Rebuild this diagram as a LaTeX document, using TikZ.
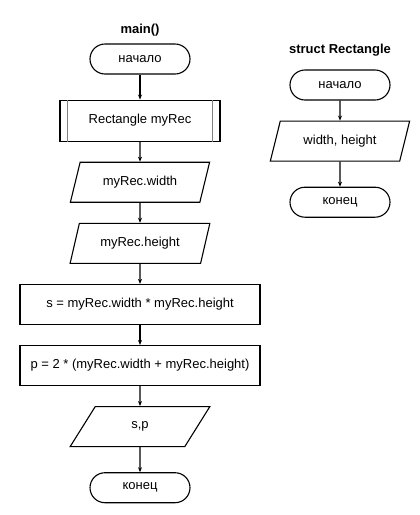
\documentclass[tikz,border=0pt]{standalone}
\usepackage{fontspec}
\setmainfont{Liberation Sans}
\usetikzlibrary{positioning,arrows.meta,shapes.geometric}
\tikzset{
  >=Stealth,
}

\begin{document}
\begin{tikzpicture}[
  x=1pt, y=1pt,
  font=\fontsize{13}{15}\selectfont,
  term/.style={draw, line width=1.1pt, rounded corners=15pt, minimum width=100pt, minimum height=30pt, inner sep=0pt},
  io/.style={draw, line width=1.1pt, trapezium, trapezium left angle=63.4, trapezium right angle=116.6, trapezium stretches=true, minimum width=140pt, minimum height=40pt, inner sep=0pt},
  proc/.style={draw, line width=1.1pt, minimum width=240pt, minimum height=40pt, inner sep=0pt},
  sub/.style={proc, minimum width=160pt, minimum height=41pt},
  ttl/.style={font=\fontsize{13}{15}\selectfont\bfseries},
  arr/.style={-{Stealth[length=5pt, width=4pt]}, line width=1.1pt}
]
  \useasboundingbox (0,0) rectangle (420,-515);

  % main()
  \node[ttl] (mtitle) at (140,-30) {main()};
  \node[term] (mstart) at (140,-59) {начало};
  \node[sub, below=25pt of mstart] (rec) {Rectangle myRec};
  \node[io, below=20pt of rec] (inw) {myRec.width};
  \node[io, below=20pt of inw] (inh) {myRec.height};
  \node[proc, below=20pt of inh] (area) {s = myRec.width * myRec.height};
  \node[proc, below=20pt of area] (perim) {p = 2 * (myRec.width + myRec.height)};
  \node[io, below=20pt of perim] (out) {s,p};
  \node[term, below=25pt of out] (mend) {конец};

  \draw[gray, line width=1pt] ([xshift=8pt]rec.north west) -- ([xshift=8pt]rec.south west);
  \draw[gray, line width=1pt] ([xshift=-8pt]rec.north east) -- ([xshift=-8pt]rec.south east);

  \draw[arr] (mstart) -- (rec);
  \draw[arr] (rec) -- (inw);
  \draw[arr] (inw) -- (inh);
  \draw[arr] (inh) -- (area);
  \draw[arr] (area) -- (perim);
  \draw[arr] (perim) -- (out);
  \draw[arr] (out) -- (mend);

  % struct Rectangle
  \node[ttl] (stitle) at (340,-50) {struct Rectangle};
  \node[term] (sstart) at (340,-85) {начало};
  \node[io, below=20pt of sstart] (fields) {width, height};
  \node[term, below=25pt of fields] (send) {конец};

  \draw[arr] (sstart) -- (fields);
  \draw[arr] (fields) -- (send);
\end{tikzpicture}
\end{document}
